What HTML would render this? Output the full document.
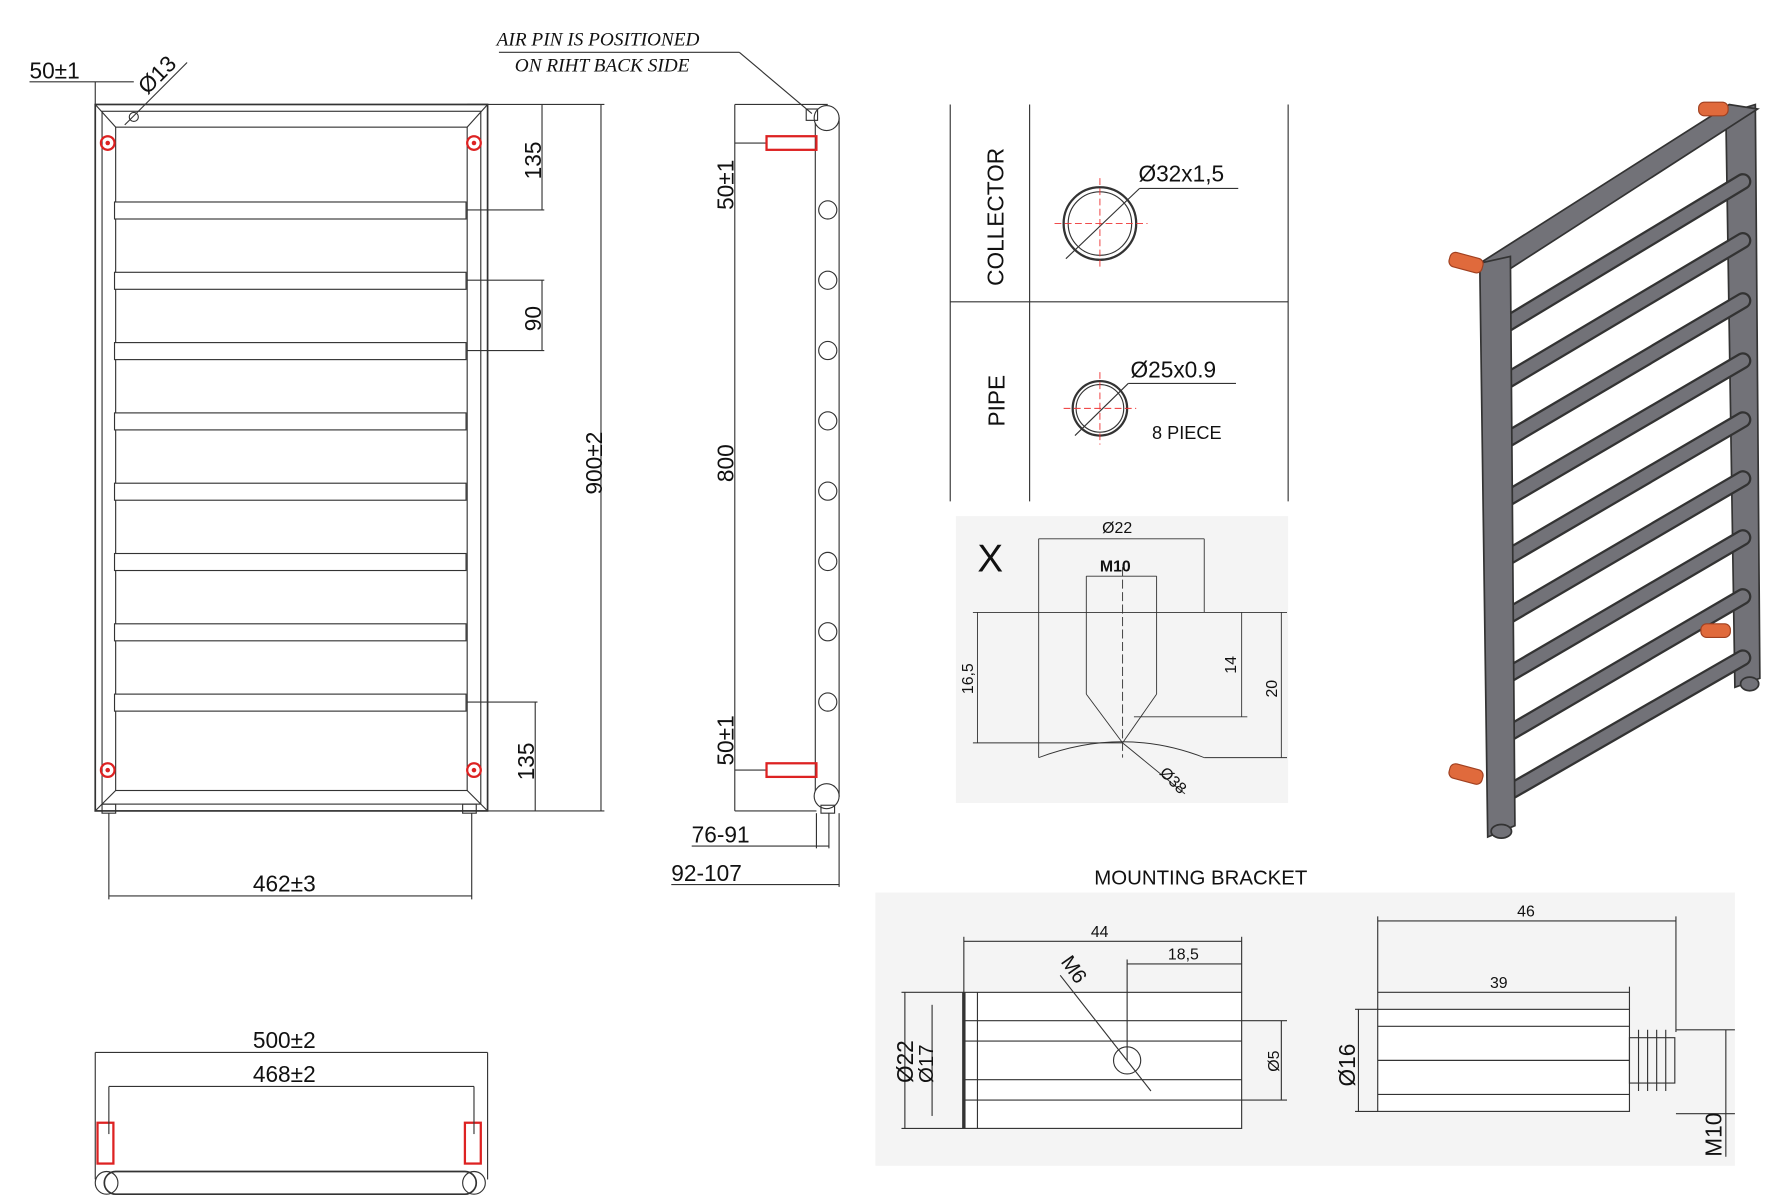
<!DOCTYPE html>
<html><head><meta charset="utf-8"><style>
html,body{margin:0;padding:0;background:#fff;}
svg{display:block;}
text{font-family:"Liberation Sans",sans-serif;fill:#111;}
.s{font-family:"Liberation Serif",serif;font-style:italic;}
</style></head><body>
<svg width="1778" height="1200" viewBox="0 0 1568 1058" xmlns="http://www.w3.org/2000/svg">
<rect width="1568" height="1058" fill="#fff"/>
<g fill="none" stroke="#333" stroke-width="1">
<rect x="84" y="92" width="346" height="623" stroke-width="1.5"/>
<rect x="90" y="98" width="334" height="611"/>
<rect x="102" y="112" width="310" height="585"/>
<line x1="84" y1="92" x2="102" y2="112"/><line x1="430" y1="92" x2="412" y2="112"/>
<line x1="84" y1="715" x2="102" y2="697"/><line x1="430" y1="715" x2="412" y2="697"/>
<g fill="#fff">
<rect x="101" y="178" width="310" height="15"/><rect x="101" y="240" width="310" height="15"/>
<rect x="101" y="302" width="310" height="15"/><rect x="101" y="364" width="310" height="15"/>
<rect x="101" y="426" width="310" height="15"/><rect x="101" y="488" width="310" height="15"/>
<rect x="101" y="550" width="310" height="15"/><rect x="101" y="612" width="310" height="15"/>
</g>
<rect x="90" y="709" width="12" height="8"/><rect x="408" y="709" width="12" height="8"/>
<circle cx="118" cy="103" r="4"/>
<line x1="26" y1="72" x2="118" y2="72"/><line x1="84" y1="72" x2="84" y2="92"/>
<line x1="110" y1="110" x2="165" y2="55"/>
<line x1="412" y1="92" x2="533" y2="92"/><line x1="412" y1="185" x2="480" y2="185"/>
<line x1="478" y1="92" x2="478" y2="185"/>
<line x1="412" y1="247" x2="480" y2="247"/><line x1="412" y1="309" x2="480" y2="309"/><line x1="478" y1="247" x2="478" y2="309"/>
<line x1="412" y1="619" x2="474" y2="619"/><line x1="472" y1="619" x2="472" y2="715"/>
<line x1="430" y1="715" x2="533" y2="715"/><line x1="530" y1="92" x2="530" y2="715"/>
<line x1="96" y1="717" x2="96" y2="793"/><line x1="416" y1="717" x2="416" y2="793"/><line x1="96" y1="790" x2="416" y2="790"/>
<line x1="648" y1="92" x2="730" y2="92"/><line x1="648" y1="92" x2="648" y2="715"/>
<line x1="648" y1="126" x2="676" y2="126"/><line x1="648" y1="679" x2="676" y2="679"/>
<line x1="648" y1="715" x2="720" y2="715"/>
<rect x="719" y="104" width="21" height="598"/>
<circle cx="729" cy="104" r="11" fill="#fff"/><circle cx="729" cy="702" r="11" fill="#fff"/>
<g fill="#fff"><circle cx="730" cy="185" r="8"/><circle cx="730" cy="247" r="8"/><circle cx="730" cy="309" r="8"/><circle cx="730" cy="371" r="8"/><circle cx="730" cy="433" r="8"/><circle cx="730" cy="495" r="8"/><circle cx="730" cy="557" r="8"/><circle cx="730" cy="619" r="8"/></g>
<rect x="711" y="96" width="10" height="10"/>
<line x1="716" y1="100" x2="652" y2="46"/><line x1="652" y1="46" x2="440" y2="46"/>
<rect x="724" y="710" width="12" height="7"/>
<line x1="720" y1="717" x2="720" y2="748"/><line x1="731" y1="717" x2="731" y2="748"/>
<line x1="740" y1="717" x2="740" y2="782"/>
<line x1="610" y1="746" x2="731" y2="746"/><line x1="592" y1="780" x2="740" y2="780"/>
<line x1="908" y1="92" x2="908" y2="442"/><line x1="1136" y1="92" x2="1136" y2="442"/>
<line x1="838" y1="92" x2="838" y2="442"/><line x1="838" y1="266" x2="1136" y2="266"/>
<circle cx="970" cy="197" r="32" stroke-width="2"/><circle cx="970" cy="197" r="28"/>
<circle cx="970" cy="360" r="24" stroke-width="2"/><circle cx="970" cy="360" r="21"/>
<line x1="940" y1="228" x2="1005" y2="166"/><line x1="1005" y1="166" x2="1092" y2="166"/>
<line x1="948" y1="384" x2="995" y2="338"/><line x1="995" y1="338" x2="1090" y2="338"/>
</g>
<g stroke="#e33" stroke-width="0.8" stroke-dasharray="6,3" fill="none">
<line x1="930" y1="197" x2="1012" y2="197"/><line x1="970" y1="157" x2="970" y2="237"/>
<line x1="938" y1="360" x2="1002" y2="360"/><line x1="970" y1="328" x2="970" y2="392"/>
</g>
<g fill="none" stroke="#d22" stroke-width="2">
<circle cx="95" cy="126" r="6"/><circle cx="418" cy="126" r="6"/><circle cx="95" cy="679" r="6"/><circle cx="418" cy="679" r="6"/>
<rect x="676" y="120" width="44" height="12"/><rect x="676" y="673" width="44" height="12"/>
<rect x="86" y="990" width="14" height="36"/><rect x="410" y="990" width="14" height="36"/>
</g>
<g fill="#d22"><circle cx="95" cy="126" r="2"/><circle cx="418" cy="126" r="2"/><circle cx="95" cy="679" r="2"/><circle cx="418" cy="679" r="2"/></g>
<g fill="none" stroke="#333">
<line x1="84" y1="928" x2="430" y2="928"/><line x1="96" y1="958" x2="418" y2="958"/>
<line x1="84" y1="928" x2="84" y2="1040"/><line x1="430" y1="928" x2="430" y2="1040"/>
<line x1="96" y1="958" x2="96" y2="1000"/><line x1="418" y1="958" x2="418" y2="1000"/>
<rect x="92" y="1033" width="328" height="20" rx="10" stroke-width="1.5"/>
<circle cx="94" cy="1043" r="10"/><circle cx="418" cy="1043" r="10"/>
</g>
<rect x="843" y="455" width="293" height="253" fill="#f4f4f4"/>
<g fill="none" stroke="#333" stroke-width="0.8">
<line x1="916" y1="475" x2="1062" y2="475"/><line x1="916" y1="475" x2="916" y2="668"/><line x1="1062" y1="475" x2="1062" y2="540"/>
<line x1="958" y1="508" x2="1020" y2="508"/><line x1="958" y1="508" x2="958" y2="612"/><line x1="1020" y1="508" x2="1020" y2="612"/>
<line x1="958" y1="612" x2="990" y2="655"/><line x1="1020" y1="612" x2="990" y2="655"/>
<line x1="858" y1="540" x2="1135" y2="540"/><line x1="862" y1="540" x2="862" y2="655"/><line x1="858" y1="655" x2="990" y2="655"/>
<line x1="1095" y1="540" x2="1095" y2="632"/><line x1="1000" y1="632" x2="1100" y2="632"/>
<line x1="1130" y1="540" x2="1130" y2="668"/><line x1="1062" y1="668" x2="1135" y2="668"/>
<path d="M916 668 Q990 640 1062 668"/><line x1="990" y1="500" x2="990" y2="668" stroke-dasharray="8,3"/>
<line x1="990" y1="655" x2="1045" y2="700"/>
</g>
<rect x="772" y="787" width="758" height="241" fill="#f4f4f4"/>
<g fill="none" stroke="#333" stroke-width="1">
<rect x="850" y="875" width="245" height="120" fill="#fff"/>
<line x1="850" y1="875" x2="850" y2="995" stroke-width="3"/>
<line x1="862" y1="875" x2="862" y2="995"/>
<line x1="850" y1="900" x2="1095" y2="900"/><line x1="850" y1="918" x2="1095" y2="918"/>
<line x1="850" y1="952" x2="1095" y2="952"/><line x1="850" y1="970" x2="1095" y2="970"/>
<circle cx="994" cy="935" r="12"/>
<line x1="850" y1="830" x2="1095" y2="830"/><line x1="850" y1="826" x2="850" y2="875"/><line x1="1095" y1="826" x2="1095" y2="875"/>
<line x1="994" y1="850" x2="1095" y2="850"/><line x1="994" y1="846" x2="994" y2="935"/>
<line x1="935" y1="860" x2="1015" y2="962"/>
<line x1="795" y1="875" x2="850" y2="875"/><line x1="795" y1="995" x2="850" y2="995"/><line x1="798" y1="875" x2="798" y2="995"/>
<line x1="822" y1="886" x2="822" y2="984"/>
<line x1="1095" y1="900" x2="1135" y2="900"/><line x1="1095" y1="970" x2="1135" y2="970"/><line x1="1130" y1="900" x2="1130" y2="970"/>
<rect x="1215" y="890" width="222" height="90" fill="#fff"/>
<line x1="1215" y1="905" x2="1437" y2="905"/><line x1="1215" y1="935" x2="1437" y2="935"/><line x1="1215" y1="965" x2="1437" y2="965"/>
<rect x="1437" y="915" width="40" height="40"/>
<line x1="1445" y1="908" x2="1445" y2="962"/><line x1="1453" y1="908" x2="1453" y2="962"/><line x1="1461" y1="908" x2="1461" y2="962"/><line x1="1469" y1="908" x2="1469" y2="962"/>
<line x1="1215" y1="812" x2="1478" y2="812"/><line x1="1215" y1="808" x2="1215" y2="890"/><line x1="1478" y1="808" x2="1478" y2="910"/>
<line x1="1215" y1="875" x2="1437" y2="875"/><line x1="1437" y1="870" x2="1437" y2="890"/>
<line x1="1195" y1="890" x2="1215" y2="890"/><line x1="1195" y1="980" x2="1215" y2="980"/><line x1="1198" y1="890" x2="1198" y2="980"/>
<line x1="1478" y1="908" x2="1530" y2="908"/><line x1="1478" y1="982" x2="1530" y2="982"/><line x1="1522" y1="908" x2="1522" y2="1020"/>
</g>
<!-- 3D render -->
<g fill="#fff"></g>
<g stroke="#333" stroke-width="1.5" fill="#727278">
<polygon points="1522,100 1548,92 1552,598 1530,606"/>
<polygon points="1305,232 1525,92 1550,96 1330,238"/>
</g>
<g stroke="#333" stroke-width="15" stroke-linecap="round">
<line x1="1325" y1="288" x2="1537" y2="160"/><line x1="1325" y1="338" x2="1537" y2="212"/><line x1="1325" y1="390" x2="1537" y2="265"/>
<line x1="1325" y1="442" x2="1537" y2="318"/><line x1="1325" y1="494" x2="1537" y2="370"/><line x1="1325" y1="546" x2="1537" y2="422"/>
<line x1="1325" y1="598" x2="1537" y2="474"/><line x1="1325" y1="650" x2="1537" y2="526"/><line x1="1325" y1="702" x2="1537" y2="580"/>
</g>
<g stroke="#727278" stroke-width="11" stroke-linecap="round">
<line x1="1325" y1="288" x2="1537" y2="160"/><line x1="1325" y1="338" x2="1537" y2="212"/><line x1="1325" y1="390" x2="1537" y2="265"/>
<line x1="1325" y1="442" x2="1537" y2="318"/><line x1="1325" y1="494" x2="1537" y2="370"/><line x1="1325" y1="546" x2="1537" y2="422"/>
<line x1="1325" y1="598" x2="1537" y2="474"/><line x1="1325" y1="650" x2="1537" y2="526"/><line x1="1325" y1="702" x2="1537" y2="580"/>
</g>
<g stroke="#333" stroke-width="1.5" fill="#727278">
<polygon points="1305,232 1332,226 1336,728 1312,738"/>
<ellipse cx="1324" cy="733" rx="9" ry="6"/><ellipse cx="1543" cy="603" rx="8" ry="6"/>
</g>
<g fill="#e06a3c" stroke="#a04020">
<rect x="1498" y="90" width="26" height="12" rx="5"/><rect x="1278" y="225" width="30" height="13" rx="5" transform="rotate(15 1293 231)"/>
<rect x="1500" y="550" width="26" height="12" rx="5"/><rect x="1278" y="676" width="30" height="13" rx="5" transform="rotate(15 1293 682)"/>
</g>
<g font-size="20">
<text x="26" y="69">50±1</text>
<text x="0" y="0" transform="translate(130,84) rotate(-45)">Ø13</text>
<text transform="translate(477,158) rotate(-90)">135</text>
<text transform="translate(477,292) rotate(-90)">90</text>
<text transform="translate(471,688) rotate(-90)">135</text>
<text transform="translate(531,436) rotate(-90)">900±2</text>
<text x="223" y="786">462±3</text>
<text transform="translate(647,185) rotate(-90)">50±1</text>
<text transform="translate(647,675) rotate(-90)">50±1</text>
<text transform="translate(647,425) rotate(-90)">800</text>
<text x="610" y="743">76-91</text>
<text x="592" y="777">92-107</text>
<text x="223" y="924">500±2</text>
<text x="223" y="954">468±2</text>
<text transform="translate(885,252) rotate(-90)">COLLECTOR</text>
<text transform="translate(886,376) rotate(-90)">PIPE</text>
<text x="1004" y="160">Ø32x1,5</text>
<text x="997" y="333">Ø25x0.9</text>
<text transform="translate(805,955) rotate(-90)">Ø22</text>
<text transform="translate(1195,958) rotate(-90)">Ø16</text>
<text transform="translate(1518,1020) rotate(-90)">M10</text>
</g>
<text x="1016" y="387" font-size="16">8 PIECE</text>
<text x="965" y="780" font-size="18">MOUNTING BRACKET</text>
<text x="862" y="504" font-size="34">X</text>
<g font-size="14">
<text x="972" y="470">Ø22</text><text x="970" y="504" font-weight="bold">M10</text>
<text transform="translate(858,612) rotate(-90)">16,5</text>
<text transform="translate(1090,594) rotate(-90)">14</text>
<text transform="translate(1126,615) rotate(-90)">20</text>
<text transform="translate(1022,682) rotate(45)">Ø38</text>
<text x="962" y="826">44</text><text x="1030" y="846">18,5</text>
<text transform="translate(935,848) rotate(55)" font-size="18">M6</text>
<text transform="translate(823,955) rotate(-90)" font-size="18">Ø17</text>
<text transform="translate(1128,945) rotate(-90)">Ø5</text>
<text x="1338" y="808">46</text><text x="1314" y="871">39</text>
</g>
<text class="s" x="438" y="40" font-size="17">AIR PIN IS POSITIONED</text>
<text class="s" x="454" y="63" font-size="17">ON RIHT BACK SIDE</text>
</svg>
</body></html>
